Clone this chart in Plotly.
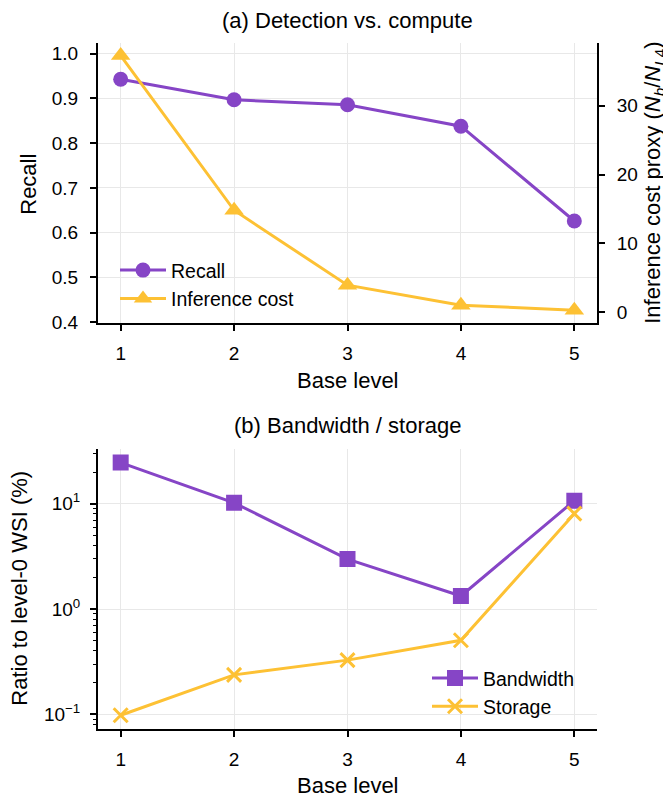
import plotly.graph_objects as go

# ---------------- data ----------------
levels = [1, 2, 3, 4, 5]
recall = [0.943, 0.897, 0.886, 0.838, 0.626]
inference_cost = [37.3, 14.8, 3.9, 1.0, 0.27]
bandwidth = [24.6, 10.2, 2.98, 1.33, 10.7]
storage = [0.098, 0.237, 0.327, 0.505, 8.05]

recall_ticks = [0.4, 0.5, 0.6, 0.7, 0.8, 0.9, 1.0]
cost_ticks = [0, 10, 20, 30]
log_ticks = [0.1, 1, 10]
log_ticktext = ["10<sup>\u22121</sup>", "10<sup>0</sup>", "10<sup>1</sup>"]
log_minor = [m * d for d in (0.01, 0.1, 1, 10) for m in range(2, 10)]

PURPLE = "#8645c6"
YELLOW = "#fdc134"
FONT = "Liberation Sans, Arial, sans-serif"
PAGE_W, PAGE_H = 671, 806
OFF = 8  # default body margin of the page
W, H = PAGE_W - OFF, PAGE_H - OFF

def px(x):
    return (x - OFF) / W

def py(y):
    return 1 - (y - OFF) / H

XDOM = [px(98), px(597)]
TOP = [py(327), py(43)]
BOT = [py(738), py(455)]

fig = go.Figure()

fig.add_trace(go.Scatter(
    x=levels, y=recall, name="Recall", mode="lines+markers",
    line=dict(color=PURPLE, width=3),
    marker=dict(symbol="circle", size=15, color=PURPLE),
    xaxis="x", yaxis="y", legend="legend"))
fig.add_trace(go.Scatter(
    x=levels, y=inference_cost, name="Inference cost", mode="lines+markers",
    line=dict(color=YELLOW, width=3),
    marker=dict(symbol="triangle-up", size=17, color=YELLOW),
    xaxis="x", yaxis="y3", legend="legend"))
fig.add_trace(go.Scatter(
    x=levels, y=bandwidth, name="Bandwidth", mode="lines+markers",
    line=dict(color=PURPLE, width=3),
    marker=dict(symbol="square", size=16, color=PURPLE),
    xaxis="x2", yaxis="y2", legend="legend2"))
fig.add_trace(go.Scatter(
    x=levels, y=storage, name="Storage", mode="lines+markers",
    line=dict(color=YELLOW, width=3),
    marker=dict(symbol="x-thin", size=14, color=YELLOW,
                line=dict(color=YELLOW, width=3)),
    xaxis="x2", yaxis="y2", legend="legend2"))

tickfont = dict(family=FONT, size=19, color="black")
common = dict(showline=True, linecolor="black", linewidth=2, ticks="outside",
              ticklen=6, tickwidth=1.5, tickcolor="black", tickfont=tickfont,
              gridcolor="#e8e8e8", gridwidth=1, zeroline=False)

legend_common = dict(xanchor="left", yanchor="top", bgcolor="rgba(0,0,0,0)",
                     font=dict(family=FONT, size=19.5), tracegroupgap=0,
                     itemwidth=46)

fig.update_layout(
    width=W, height=H, margin=dict(l=0, r=0, t=0, b=0),
    plot_bgcolor="white", paper_bgcolor="white",
    font=dict(family=FONT, color="black"),
    xaxis=dict(domain=XDOM, anchor="y", range=[0.8, 5.2], tickvals=levels,
               showgrid=True, ticklabelstandoff=6, **common),
    yaxis=dict(domain=TOP, anchor="x", range=[0.398, 1.025],
               tickvals=recall_ticks, tickformat=".1f", showgrid=True,
               ticklabelstandoff=8, **common),
    yaxis3=dict(overlaying="y", anchor="x", side="right",
                range=[-1.6, 39.2], tickvals=cost_ticks, showgrid=False,
                ticklabelstandoff=8, **common),
    xaxis2=dict(domain=XDOM, anchor="y2", range=[0.8, 5.2], tickvals=levels,
                showgrid=True, ticklabelstandoff=6, **common),
    yaxis2=dict(domain=BOT, anchor="x2", type="log", range=[-1.138, 1.516],
                tickvals=log_ticks, ticktext=log_ticktext, showgrid=True,
                ticklabelstandoff=6,
                minor=dict(tickvals=log_minor, ticks="outside", ticklen=3.5,
                           tickwidth=1.2, tickcolor="black", showgrid=False),
                **common),
    legend=dict(x=px(115), y=py(254), **legend_common),
    legend2=dict(x=px(427), y=py(667), **legend_common),
    showlegend=True,
)

ann_font = dict(family=FONT, size=22, color="black")
annotations = [
    dict(text="(a) Detection vs. compute", x=px(347.5), y=py(21)),
    dict(text="(b) Bandwidth / storage", x=px(347.5), y=py(431)),
    dict(text="Base level", x=px(347.5), y=py(385)),
    dict(text="Base level", x=px(347.5), y=py(795)),
    dict(text="Recall", x=px(29), y=py(187), textangle=-90),
    dict(text="Ratio to level-0 WSI (%)", x=px(20), y=py(596), textangle=-90),
    dict(text="Inference cost proxy (<i>N</i><sub><i>b</i></sub>/<i>N</i><sub><i>L</i>4</sub>)",
         x=px(654), y=py(185), textangle=-90),
]
for a in annotations:
    a.update(xref="paper", yref="paper", showarrow=False, font=ann_font,
             xanchor="center", yanchor="middle")
fig.update_layout(annotations=annotations)

fig.write_html("out.html")
